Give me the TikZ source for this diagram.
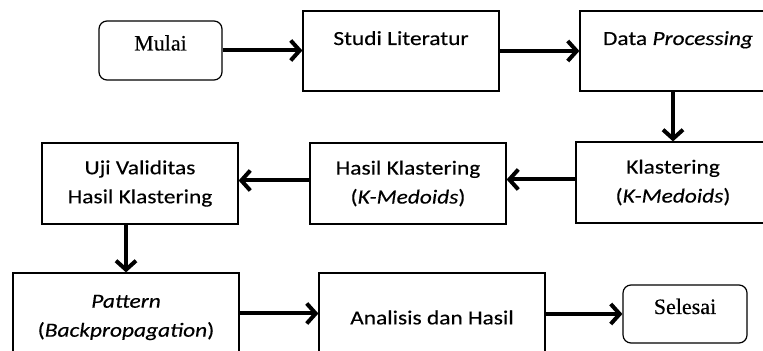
\documentclass[tikz,border=0pt]{standalone}
\usepackage{fontspec}
\setmainfont{Carlito}[FakeStretch=1.17,FakeBold=0.3]
\newfontfamily\timesfont{Liberation Serif}[FakeBold=0.3]
\usetikzlibrary{arrows.meta,positioning}

\begin{document}
\begin{tikzpicture}[x=0.5pt,y=-0.5pt,font=\fontsize{10}{14.5}\selectfont,
    box/.style={draw,line width=0.6pt,align=center,inner sep=0pt},
    endbox/.style={box,rounded corners=4pt,font=\timesfont\fontsize{11}{13}\selectfont,text height=7pt,text depth=7pt},
    topbox/.style={box,text height=7pt,text depth=13pt},
    flow/.style={-{Straight Barb[length=4.5pt,width=10pt]},line width=2pt}]
    \useasboundingbox (0,0) rectangle (763,351);
    \clip (0,0) rectangle (763,351);
    % top row
    \node[endbox,minimum width=61.5pt,minimum height=29.5pt] (mulai) at (160.5,50.5) {Mulai};
    \node[topbox,minimum width=98pt,minimum height=40pt] (studi) at (401,51) {Studi Literatur};
    \node[topbox,minimum width=98pt,minimum height=40pt] (data) at (678,51) {Data \textit{Processing}};
    % middle row
    \node[box,minimum width=97pt,minimum height=40.5pt] (klaster) at (673,182.5) {Klastering\\(\textit{K-Medoids})};
    \node[box,minimum width=98pt,minimum height=40.5pt] (hasil) at (408,183.5) {Hasil Klastering\\(\textit{K-Medoids})};
    \node[box,minimum width=98pt,minimum height=40.5pt] (uji) at (140,183.5) {Uji Validitas\\Hasil Klastering};
    % bottom row
    \node[box,minimum width=113pt,minimum height=44.5pt] (pattern) at (126,317.5) {\textit{Pattern}\\(\textit{Backpropagation})};
    \node[box,minimum width=113pt,minimum height=44.5pt] (analisis) at (432,317.5) {Analisis dan Hasil};
    \node[endbox,minimum width=62pt,minimum height=29pt] (selesai) at (685,314) {Selesai};
    \draw[flow] (mulai.east) -- (mulai.east -| studi.west);
    \draw[flow] (studi.east) -- (studi.east -| data.west);
    \draw[flow] (data.south -| klaster.north) -- (klaster.north);
    \draw[flow] ([yshift=1.5pt]klaster.west) -- ([yshift=1.5pt]klaster.west -| hasil.east);
    \draw[flow] ([yshift=1.5pt]hasil.west) -- ([yshift=1.5pt]hasil.west -| uji.east);
    \draw[flow] (uji.south -| pattern.north) -- (pattern.north);
    \draw[flow] ([yshift=2pt]pattern.east) -- ([yshift=2pt]pattern.east -| analisis.west);
    \draw[flow] (selesai.west -| analisis.east) -- (selesai.west);
\end{tikzpicture}
\end{document}
